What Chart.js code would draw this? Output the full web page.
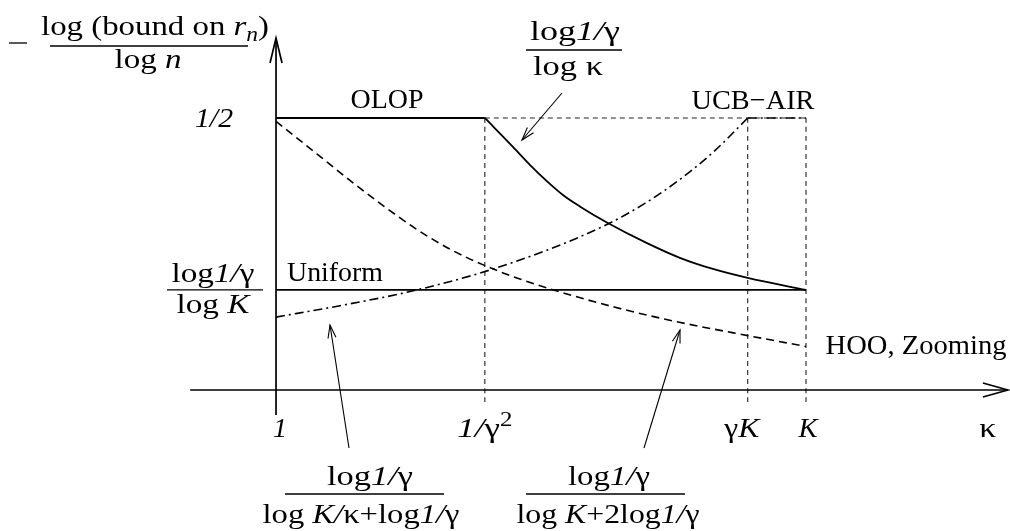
<!DOCTYPE html>
<html>
<head>
<meta charset="utf-8">
<script src="https://cdn.jsdelivr.net/npm/chart.js@4"></script>
<style>
  body { margin: 0; background: #fff; }
  #wrap { width: 1010px; height: 531px; }
</style>
</head>
<body>
<div id="wrap"><canvas id="chart"></canvas></div>
<script>
// kappa axis: 0 = "1", 100 = "K"; level axis: 0.5 = "1/2"
const kappaTicks = [0, 39.4, 89, 100];
const kappaLabels = ['1', '1/γ²', 'γK', 'K'];
const levelTicks = [0.5, 0.184];

const olopFlatX = [0, 39.4];
const olopFlatY = [0.5, 0.5];
const olopX = [39.4, 44.7, 47.9, 51.1, 54.2, 57.4, 62.6, 70.0, 76.2, 82.6, 89, 100];
const olopY = [0.5, 0.447, 0.414, 0.384, 0.358, 0.337, 0.307, 0.270, 0.243, 0.222, 0.206, 0.184];

const uniformX = [0, 100];
const uniformY = [0.184, 0.184];

const hooX = [0, 7.7, 14.0, 20.2, 26.6, 32.8, 39.1, 46.0, 53.0, 64.0, 74.9, 89, 100];
const hooY = [0.494, 0.434, 0.385, 0.339, 0.295, 0.259, 0.230, 0.204, 0.182, 0.152, 0.127, 0.100, 0.080];

const ucbX = [0, 12.1, 25.3, 38.5, 51.1, 62.6, 69.6, 76.2, 82.8, 89];
const ucbY = [0.134, 0.155, 0.181, 0.215, 0.257, 0.305, 0.343, 0.387, 0.440, 0.5];
const ucbFlatX = [89, 100];
const ucbFlatY = [0.5, 0.5];

const guideBottom = -0.024;
const axisXRange = [-16.2, 138.1];
const axisYRange = [-0.046, 0.647];

const pts = (xs, ys) => xs.map((x, i) => ({ x: x, y: ys[i] }));

function curve(data, dash, width, order) {
    return {
        data: data,
        borderColor: '#000',
        borderWidth: width,
        borderDash: dash,
        pointRadius: 0,
        showLine: true,
        fill: false,
        cubicInterpolationMode: 'monotone',
        order: order
    };
}

const guideDash = [5, 4];
const datasets = [
    curve(pts(olopFlatX, olopFlatY), [], 1.8, 1),
    curve(pts(olopX, olopY), [], 1.8, 1),
    curve(pts(uniformX, uniformY), [], 1.7, 1),
    curve(pts(hooX, hooY), [8, 5], 1.6, 1),
    curve(pts(ucbX, ucbY), [9, 4, 2, 4], 1.6, 1),
    curve(pts(ucbFlatX, ucbFlatY), [9, 4, 2, 4], 1.6, 1),
    curve(pts([kappaTicks[1], kappaTicks[3]], [0.5, 0.5]), guideDash, 1.1, 2),
    curve(pts([kappaTicks[1], kappaTicks[1]], [0.5, guideBottom]), guideDash, 1.1, 2),
    curve(pts([kappaTicks[2], kappaTicks[2]], [0.5, guideBottom]), guideDash, 1.1, 2),
    curve(pts([kappaTicks[3], kappaTicks[3]], [0.5, guideBottom]), guideDash, 1.1, 2)
];
datasets.slice(6).forEach(d => d.borderColor = '#222');

const FONT = '"Liberation Serif"';

// parts: [text, style]  r roman, i italic, is italic subscript, p superscript
function drawRuns(ctx, parts, cx, base, width, size) {
    const fontOf = st => (st[0] === 'i' ? 'italic ' : '') +
        Math.round((st === 'is' || st === 'p') ? size * 0.7 : size) + 'px ' + FONT;
    let total = 0;
    const ws = parts.map(p => {
        ctx.font = fontOf(p[1]);
        const w = ctx.measureText(p[0]).width;
        total += w;
        return w;
    });
    const sx = width ? width / total : 1;
    ctx.save();
    ctx.translate(cx - total * sx / 2, base);
    ctx.scale(sx, 1);
    ctx.textAlign = 'left';
    ctx.textBaseline = 'alphabetic';
    let x = 0;
    parts.forEach((p, i) => {
        ctx.font = fontOf(p[1]);
        let dy = 0;
        if (p[1] === 'is') dy = size * 0.22;
        if (p[1] === 'p') dy = -size * 0.38;
        ctx.fillText(p[0], x, dy);
        x += ws[i];
    });
    ctx.restore();
}

function seg(ctx, x1, y1, x2, y2) {
    ctx.beginPath();
    ctx.moveTo(x1, y1);
    ctx.lineTo(x2, y2);
    ctx.stroke();
}

function arrow(ctx, x1, y1, x2, y2, len, half, withShaft) {
    const dx = x2 - x1, dy = y2 - y1;
    const d = Math.hypot(dx, dy);
    const ux = dx / d, uy = dy / d;
    if (withShaft) seg(ctx, x1, y1, x2, y2);
    const bx = x2 - ux * len, by = y2 - uy * len;
    ctx.beginPath();
    ctx.moveTo(bx - uy * half, by + ux * half);
    ctx.lineTo(x2, y2);
    ctx.lineTo(bx + uy * half, by - ux * half);
    ctx.stroke();
}

const LOG1G = [['log', 'r'], ['1/', 'i'], ['γ', 'r']];

const decor = {
    id: 'decor',
    afterDatasetsDraw(chart) {
        const ctx = chart.ctx;
        const X = v => chart.scales.x.getPixelForValue(v);
        const Y = v => chart.scales.y.getPixelForValue(v);
        ctx.save();
        ctx.strokeStyle = '#000';
        ctx.fillStyle = '#000';
        ctx.setLineDash([]);

        // axes with open arrowheads
        ctx.lineWidth = 1.7;
        seg(ctx, X(axisXRange[0]), Y(0), X(axisXRange[1]), Y(0));
        arrow(ctx, X(0), Y(0), X(axisXRange[1]), Y(0), 25, 7, false);
        seg(ctx, X(0), Y(axisYRange[0]), X(0), Y(axisYRange[1]));
        arrow(ctx, X(0), Y(0), X(0), Y(axisYRange[1]), 25, 6, false);

        // kappa tick labels
        const tickStyles = [
            [['1', 'i']],
            [['1/', 'i'], ['γ', 'r'], ['2', 'p']],
            [['γ', 'r'], ['K', 'i']],
            [['K', 'i']]
        ];
        const tickShift = [4, 0, -6, 2];
        const tickW = [14, 55, 35, 19];
        tickStyles.forEach((parts, i) => {
            drawRuns(ctx, parts, X(kappaTicks[i]) + tickShift[i], Y(0) + 47, tickW[i], 28);
        });
        drawRuns(ctx, [['κ', 'r']], X(134.3), Y(0) + 47, 17, 28);

        // level labels
        drawRuns(ctx, [['1/2', 'i']], 214, Y(levelTicks[0]) + 9, 38, 28);
        const fy = Y(levelTicks[1]);
        ctx.lineWidth = 1.3;
        seg(ctx, 167, fy, 263, fy);
        drawRuns(ctx, LOG1G, 213, fy - 8, 83, 28);
        drawRuns(ctx, [['log ', 'r'], ['K', 'i']], 213, fy + 23, 73, 28);

        // y title
        seg(ctx, 9, 43, 27, 43);
        seg(ctx, 50, 46, 248, 46);
        drawRuns(ctx, [['log (bound on ', 'r'], ['r', 'i'], ['n', 'is'], [')', 'r']], 155, 35, 228, 28);
        drawRuns(ctx, [['log ', 'r'], ['n', 'i']], 148, 68, 67, 28);

        // curve names
        drawRuns(ctx, [['OLOP', 'r']], 387, 108, 73, 28);
        drawRuns(ctx, [['Uniform', 'r']], 335, 281, 96, 28);
        drawRuns(ctx, [['UCB−AIR', 'r']], 753, 109, 123, 28);
        drawRuns(ctx, [['HOO, Zooming', 'r']], 916, 354, 181, 28);

        // top annotation
        seg(ctx, 526, 50, 622, 50);
        drawRuns(ctx, LOG1G, 575, 40, 90, 28);
        drawRuns(ctx, [['log ', 'r'], ['κ', 'r']], 568, 75, 70, 28);

        // bottom annotations
        seg(ctx, 285, 494, 444, 494);
        drawRuns(ctx, LOG1G, 370, 485, 86, 28);
        drawRuns(ctx, [['log ', 'r'], ['K', 'i'], ['/', 'i'], ['κ', 'r'], ['+log', 'r'], ['1/', 'i'], ['γ', 'r']], 361, 523, 197, 28);
        seg(ctx, 526, 494, 685, 494);
        drawRuns(ctx, LOG1G, 609, 485, 82, 28);
        drawRuns(ctx, [['log ', 'r'], ['K', 'i'], ['+2log', 'r'], ['1/', 'i'], ['γ', 'r']], 608, 523, 183, 28);

        // pointer arrows
        ctx.lineWidth = 1.1;
        arrow(ctx, 562, 93, 522, 140, 13, 4, true);
        arrow(ctx, 349, 448, 330, 325, 13, 4, true);
        arrow(ctx, 644, 448, 680, 330, 13, 4, true);
        ctx.restore();
    }
};

new Chart(document.getElementById('chart'), {
    type: 'scatter',
    data: { datasets: datasets },
    options: {
        responsive: true,
        maintainAspectRatio: false,
        animation: false,
        layout: { padding: 0 },
        plugins: { legend: { display: false }, tooltip: { enabled: false } },
        scales: {
            x: { type: 'linear', display: false, min: -52.08, max: 138.49 },
            y: { type: 'linear', display: false, min: -0.2592, max: 0.7169 }
        }
    },
    plugins: [decor]
});
</script>
</body>
</html>
